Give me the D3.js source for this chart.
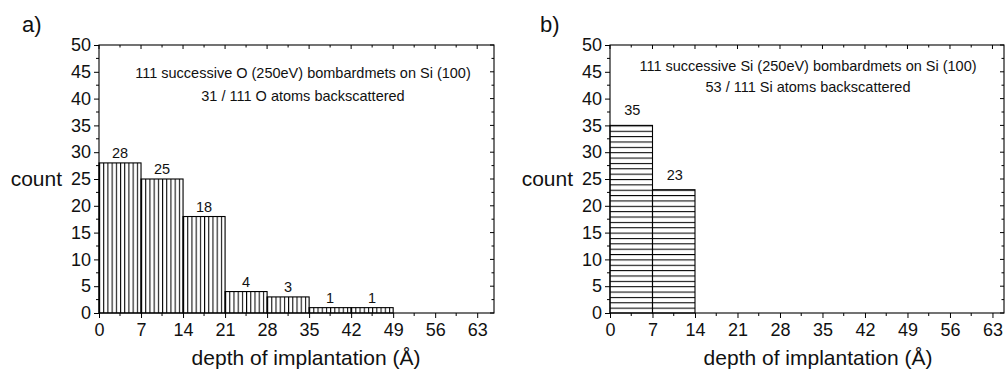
<!DOCTYPE html>
<html>
<head>
<meta charset="utf-8">
<script src="https://cdn.jsdelivr.net/npm/d3@7"></script>
<style>
  body { margin: 0; background: #fff; }
  text { font-family: "Liberation Sans", Arial, sans-serif; fill: #111; }
</style>
</head>
<body>
<svg id="chart" width="1005" height="371"></svg>
<script>
// bin edges (Å) and counts per bin
const binEdges = [0, 7, 14, 21, 28, 35, 42, 49];
const countsO = [28, 25, 18, 4, 3, 1, 1];
const countsSi = [35, 23];
const xTicks = [0, 7, 14, 21, 28, 35, 42, 49, 56, 63];
const yTicks = [0, 5, 10, 15, 20, 25, 30, 35, 40, 45, 50];
const notesO = ["111 successive O (250eV) bombardmets on Si (100)", "31 / 111 O atoms backscattered"];
const notesSi = ["111 successive Si (250eV) bombardmets on Si (100)", "53 / 111 Si atoms backscattered"];

const svg = d3.select("#chart");

function drawPanel(cfg) {
  const x = d3.scaleLinear().domain([0, cfg.xMax]).range([cfg.left, cfg.right]);
  const y = d3.scaleLinear().domain([0, 50]).range([313, 45]);
  const g = svg.append("g");

  // hatch pattern
  const pat = svg.append("defs").append("pattern")
    .attr("id", cfg.id)
    .attr("patternUnits", "userSpaceOnUse");
  if (cfg.hatch === "v") {
    const w = x(0.7) - x(0);
    pat.attr("x", x(0)).attr("y", 0).attr("width", w).attr("height", 10);
    pat.append("line").attr("x1", 0.5).attr("x2", 0.5).attr("y1", 0).attr("y2", 10)
      .attr("stroke", "#000").attr("stroke-width", 1.1);
  } else {
    const h = y(0) - y(1);
    pat.attr("x", 0).attr("y", y(0)).attr("width", 10).attr("height", h);
    pat.append("line").attr("x1", 0).attr("x2", 10).attr("y1", 0.5).attr("y2", 0.5)
      .attr("stroke", "#000").attr("stroke-width", 1.1);
  }

  const bins = cfg.counts.map((c, i) => ({ x0: binEdges[i], x1: binEdges[i + 1], c }));

  g.selectAll("rect.bar").data(bins).join("rect")
    .attr("class", "bar")
    .attr("x", d => x(d.x0))
    .attr("y", d => y(d.c))
    .attr("width", d => x(d.x1) - x(d.x0))
    .attr("height", d => y(0) - y(d.c))
    .attr("fill", "url(#" + cfg.id + ")")
    .attr("stroke", "#000")
    .attr("stroke-width", 1.1);

  g.selectAll("text.lbl").data(bins).join("text")
    .attr("class", "lbl")
    .attr("x", d => x((d.x0 + d.x1) / 2) + cfg.lblDx)
    .attr("y", d => y(d.c) - cfg.lblDy)
    .attr("text-anchor", "middle")
    .style("font-size", "14.5px")
    .text(d => d.c);

  // frame
  g.append("rect")
    .attr("x", x(0)).attr("y", y(50))
    .attr("width", x(cfg.xMax) - x(0)).attr("height", y(0) - y(50))
    .attr("fill", "none").attr("stroke", "#000").attr("stroke-width", 1.1);

  const xMinor = d3.range(3.5, cfg.xMax, 7);
  const yMinor = d3.range(2.5, 50, 5);

  // bottom axis (outward)
  const bottom = g.append("g").attr("transform", `translate(0,${y(0)})`)
    .call(d3.axisBottom(x).tickValues(xTicks).tickSize(5).tickPadding(5).tickFormat(d3.format("d")));
  bottom.select(".domain").remove();
  bottom.selectAll("text").style("font-size", "18px");
  g.append("g").selectAll("line").data(xMinor).join("line")
    .attr("x1", d => x(d)).attr("x2", d => x(d))
    .attr("y1", y(0)).attr("y2", y(0) + 3).attr("stroke", "#000");

  // left axis (outward)
  const left = g.append("g").attr("transform", `translate(${x(0)},0)`)
    .call(d3.axisLeft(y).tickValues(yTicks).tickSize(5).tickPadding(3));
  left.select(".domain").remove();
  left.selectAll("text").style("font-size", "18px");
  g.append("g").selectAll("line").data(yMinor).join("line")
    .attr("x1", x(0)).attr("x2", x(0) - 3)
    .attr("y1", d => y(d)).attr("y2", d => y(d)).attr("stroke", "#000");

  // top and right ticks (inward)
  g.append("g").selectAll("line").data(xTicks.concat(xMinor)).join("line")
    .attr("x1", d => x(d)).attr("x2", d => x(d))
    .attr("y1", y(50)).attr("y2", d => y(50) + (d % 7 === 0 ? 4 : 2.5)).attr("stroke", "#000");
  g.append("g").selectAll("line").data(yTicks.concat(yMinor)).join("line")
    .attr("x1", x(cfg.xMax)).attr("x2", d => x(cfg.xMax) - (d % 5 === 0 ? 4 : 2.5))
    .attr("y1", d => y(d)).attr("y2", d => y(d)).attr("stroke", "#000");

  // notes
  g.selectAll("text.note").data(cfg.notes).join("text")
    .attr("class", "note")
    .attr("x", cfg.noteX)
    .attr("y", (d, i) => cfg.noteY + i * cfg.noteGap)
    .attr("text-anchor", "middle")
    .style("font-size", "14.5px")
    .text(d => d);

  g.append("text").attr("x", cfg.panelX).attr("y", 32)
    .style("font-size", "22px").text(cfg.panel);
  g.append("text").attr("x", x(0) - 37).attr("y", 186)
    .attr("text-anchor", "end").style("font-size", "21px").text("count");
  g.append("text").attr("x", cfg.titleX).attr("y", 365)
    .attr("text-anchor", "middle").style("font-size", "21px").text("depth of implantation (Å)");
}

drawPanel({
  id: "hatchV", hatch: "v", counts: countsO, notes: notesO,
  left: 99, right: 494, xMax: 65.8,
  lblDx: 0, lblDy: 5, noteX: 303, noteY: 78, noteGap: 23,
  panel: "a)", panelX: 22, titleX: 306
});
drawPanel({
  id: "hatchH", hatch: "h", counts: countsSi, notes: notesSi,
  left: 610, right: 1004, xMax: 64.9,
  lblDx: 1, lblDy: 10, noteX: 808, noteY: 71, noteGap: 21,
  panel: "b)", panelX: 540, titleX: 818
});
</script>
</body>
</html>
